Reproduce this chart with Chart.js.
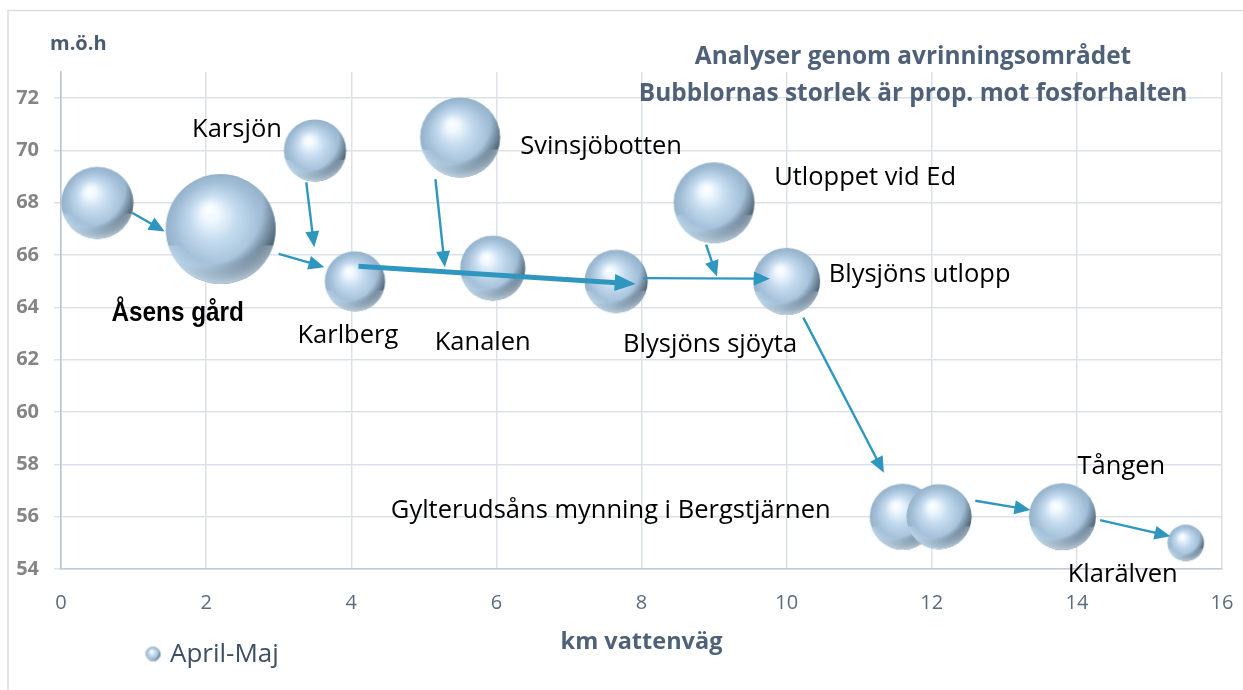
<!DOCTYPE html>
<html>
<head>
<meta charset="utf-8">
<script src="https://cdn.jsdelivr.net/npm/chart.js@4.4.1/dist/chart.umd.min.js"></script>
<style>
  html, body { margin: 0; padding: 0; background: #fff; }
</style>
</head>
<body>
<canvas id="bubbleChart" width="1243" height="690"></canvas>
<script>
// Provtagningspunkter längs vattenvägen (april-maj)
const names = ['', 'Åsens gård', 'Karsjön', 'Karlberg', 'Svinsjöbotten', 'Kanalen', 'Blysjöns sjöyta',
    'Utloppet vid Ed', 'Blysjöns utlopp', 'Gylterudsåns mynning i Bergstjärnen', '', 'Tången', 'Klarälven'];
const km = [0.5, 2.2, 3.5, 4.05, 5.5, 5.95, 7.65, 9.0, 10.0, 11.6, 12.1, 13.8, 15.5];
const moh = [68, 67, 70, 65, 70.5, 65.5, 65, 68, 65, 56, 56, 56, 55];
const fosfor = [43, 100, 32, 30, 53, 35, 33, 54, 37, 36, 35, 37, 11];

// Flödespilar: från [km, m.ö.h] till [km, m.ö.h]
const flowFrom = [[0.98, 67.62], [3.38, 68.78], [3.0, 66.05], [5.16, 68.9], [4.1, 65.57],
    [8.02, 65.12], [8.89, 66.4], [10.23, 63.61], [12.6, 56.61], [14.32, 55.87]];
const flowTo = [[1.43, 66.9], [3.49, 66.3], [3.63, 65.54], [5.29, 65.54], [7.92, 64.9],
    [9.77, 65.1], [9.04, 65.18], [11.34, 57.68], [13.36, 56.26], [15.29, 55.25]];
const flowMain = [false, false, false, false, true, false, false, false, false, false];

const xTicks = [0, 2, 4, 6, 8, 10, 12, 14, 16];
const yTicks = [54, 56, 58, 60, 62, 64, 66, 68, 70, 72];

// Etikettplacering relativt bubblans mitt (px)
const labelOffset = [[0, 0], [-43, 85], [-78, -21], [-7, 54], [141, 9], [-10, 75], [94, 63],
    [151, -25], [133, -7], [-292, -6], [0, 0], [59, -50], [-63, 32]];

const BUBBLE_SCALE = 5.5;
const ARROW = '#2f97bf';
const TITLE = '#4f6179';
const GRID = '#dce1e9';

// Glänsande sfär som punktstil
const sphereCache = {};
function sphere(r) {
    const key = r.toFixed(1);
    if (sphereCache[key]) return sphereCache[key];
    const size = Math.ceil(r * 2) + 2;
    const c = document.createElement('canvas');
    c.width = size;
    c.height = size;
    const g = c.getContext('2d');
    const cx = size / 2, cy = size / 2;
    g.beginPath();
    g.arc(cx, cy, r, 0, Math.PI * 2);
    g.closePath();
    g.save();
    g.clip();
    let grad = g.createRadialGradient(cx - 0.22 * r, cy - 0.35 * r, 0, cx, cy, r);
    grad.addColorStop(0, '#ffffff');
    grad.addColorStop(0.14, '#f2f9ff');
    grad.addColorStop(0.42, '#c4dbef');
    grad.addColorStop(0.75, '#a4c0d8');
    grad.addColorStop(1, '#94b2cb');
    g.fillStyle = grad;
    g.fillRect(0, 0, size, size);
    // mörk skugga mot nedre högra kanten
    grad = g.createRadialGradient(cx - 0.35 * r, cy - 0.45 * r, 0, cx - 0.35 * r, cy - 0.45 * r, 1.75 * r);
    grad.addColorStop(0, 'rgba(30,40,50,0)');
    grad.addColorStop(0.64, 'rgba(30,40,50,0)');
    grad.addColorStop(0.84, 'rgba(30,40,50,0.55)');
    grad.addColorStop(1, 'rgba(20,28,36,0.95)');
    g.fillStyle = grad;
    g.fillRect(0, 0, size, size);
    // ljus reflex längs nedre kanten
    grad = g.createRadialGradient(cx, cy - 0.25 * r, 0.9 * r, cx, cy - 0.25 * r, 1.25 * r);
    grad.addColorStop(0, 'rgba(214,235,250,0)');
    grad.addColorStop(1, 'rgba(214,235,250,0.8)');
    g.fillStyle = grad;
    g.fillRect(0, cy + 0.3 * r, size, size);
    g.restore();
    sphereCache[key] = c;
    return c;
}

function drawArrow(ctx, x1, y1, x2, y2, thick) {
    const lw = thick ? 5 : 2.4;
    const headLen = thick ? 21 : 16;
    const headW = thick ? 8.5 : 7;
    const ang = Math.atan2(y2 - y1, x2 - x1);
    const bx = x2 - headLen * Math.cos(ang);
    const by = y2 - headLen * Math.sin(ang);
    ctx.save();
    ctx.strokeStyle = ARROW;
    ctx.fillStyle = ARROW;
    ctx.lineWidth = lw;
    ctx.beginPath();
    ctx.moveTo(x1, y1);
    ctx.lineTo(bx + 2 * Math.cos(ang), by + 2 * Math.sin(ang));
    ctx.stroke();
    ctx.beginPath();
    ctx.moveTo(x2, y2);
    ctx.lineTo(bx + headW * Math.sin(ang), by - headW * Math.cos(ang));
    ctx.lineTo(bx - headW * Math.sin(ang), by + headW * Math.cos(ang));
    ctx.closePath();
    ctx.fill();
    ctx.restore();
}

const overlay = {
    id: 'overlay',
    beforeDraw(chart) {
        const ctx = chart.ctx;
        // ram
        ctx.save();
        ctx.strokeStyle = '#d9dee6';
        ctx.lineWidth = 1.5;
        ctx.beginPath();
        ctx.moveTo(8, 700);
        ctx.lineTo(8, 10.5);
        ctx.lineTo(1243, 10.5);
        ctx.stroke();
        ctx.restore();
    },
    afterDatasetsDraw(chart) {
        const ctx = chart.ctx;
        const xs = chart.scales.x, ys = chart.scales.y;
        flowFrom.forEach((p, i) => {
            const q = flowTo[i];
            drawArrow(ctx, xs.getPixelForValue(p[0]), ys.getPixelForValue(p[1]),
                xs.getPixelForValue(q[0]), ys.getPixelForValue(q[1]), flowMain[i]);
        });

        // punktnamn
        ctx.save();
        ctx.textAlign = 'center';
        ctx.textBaseline = 'middle';
        ctx.fillStyle = '#000';
        names.forEach((n, i) => {
            if (!n) return;
            const x = xs.getPixelForValue(km[i]) + labelOffset[i][0];
            const y = ys.getPixelForValue(moh[i]) + labelOffset[i][1];
            if (i === 1) {
                ctx.save();
                ctx.translate(x, y);
                ctx.scale(0.9, 1);
                ctx.font = 'bold 27px "Liberation Sans"';
                ctx.fillText(n, 0, 0);
                ctx.restore();
            } else {
                ctx.font = '25.5px "Open Sans"';
                ctx.fillText(n, x, y);
            }
        });

        // rubrik
        ctx.fillStyle = TITLE;
        ctx.font = 'bold 24.4px "Open Sans"';
        ctx.fillText('Analyser genom avrinningsområdet', 913, 57);
        ctx.fillText('Bubblornas storlek är prop. mot fosforhalten', 913, 94);

        ctx.textAlign = 'left';
        ctx.font = 'bold 20px "Open Sans"';
        ctx.fillStyle = '#4a5a70';
        ctx.fillText('m.ö.h', 50, 44);

        // teckenförklaring
        const icon = sphere(7.5);
        ctx.drawImage(icon, 153 - icon.width / 2, 654 - icon.height / 2);
        ctx.font = '26px "Open Sans"';
        ctx.fillStyle = '#3f4f63';
        ctx.fillText(chart.data.datasets[0].label, 170, 655);
        ctx.restore();
    }
};

const points = km.map((x, i) => ({ x: x, y: moh[i], r: BUBBLE_SCALE * Math.sqrt(fosfor[i]) }));

new Chart(document.getElementById('bubbleChart').getContext('2d'), {
    type: 'bubble',
    data: {
        datasets: [{
            label: 'April-Maj',
            data: points,
            pointStyle: (ctx) => sphere(ctx.raw ? ctx.raw.r : 7),
            backgroundColor: '#a9c2d6',
            borderWidth: 0,
            clip: false
        }]
    },
    options: {
        responsive: false,
        animation: false,
        events: [],
        layout: {
            autoPadding: false,
            padding: { left: 0, top: 72, right: 21, bottom: 0 }
        },
        scales: {
            x: {
                type: 'linear',
                min: 0,
                max: 16,
                afterBuildTicks: (s) => { s.ticks = xTicks.map(v => ({ value: v })); },
                afterFit: (s) => {
                    s.height = 121;
                    s.paddingLeft = 0;
                    s.paddingRight = 0;
                },
                ticks: {
                    font: { family: 'Open Sans', size: 20 },
                    color: '#5b6b80',
                    padding: 0
                },
                grid: { color: GRID, lineWidth: 1.5, tickLength: 22, tickColor: 'rgba(0,0,0,0)' },
                border: { color: '#c3cbd7', width: 1.5 },
                title: {
                    display: true,
                    text: 'km vattenväg',
                    font: { family: 'Open Sans', size: 23.5, weight: 'bold' },
                    color: TITLE,
                    padding: { top: 10, bottom: 34 }
                }
            },
            y: {
                type: 'linear',
                min: 54,
                max: 73,
                afterBuildTicks: (s) => { s.ticks = yTicks.map(v => ({ value: v })); },
                afterFit: (s) => {
                    s.width = 61;
                    s.paddingTop = 0;
                    s.paddingBottom = 0;
                },
                ticks: {
                    font: { family: 'Open Sans', size: 20, weight: 'bold' },
                    color: '#858585',
                    padding: 15
                },
                grid: { color: GRID, lineWidth: 1.5, tickLength: 7 },
                border: { color: '#b9c3d1', width: 1.5 }
            }
        },
        plugins: {
            legend: { display: false },
            tooltip: { enabled: false }
        }
    },
    plugins: [overlay]
});
</script>
</body>
</html>
